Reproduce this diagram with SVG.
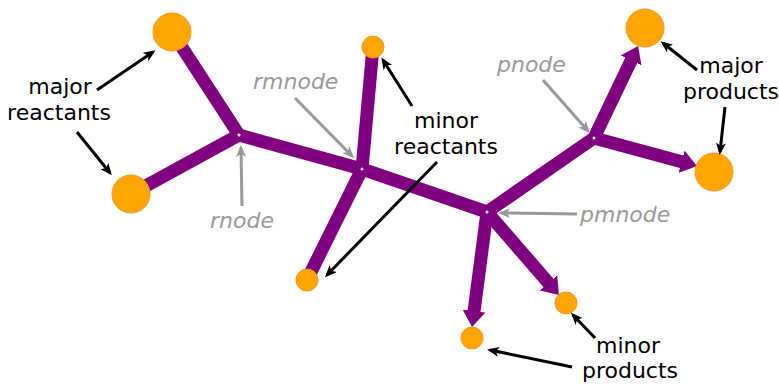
<svg xmlns="http://www.w3.org/2000/svg" width="779" height="385" viewBox="0 0 779 385">
  <defs>
    <style>
      .flux { stroke: #800080; stroke-width: 13; fill: none; stroke-linecap: butt; }
      .species { fill: #ffa500; stroke: #f7941d; stroke-width: 1; }
      .hub { fill: #ffffff; }
      .pointer { stroke: #000000; stroke-width: 3; fill: none; marker-end: url(#blackHead); }
      .hint { stroke: #999999; stroke-width: 3; fill: none; marker-end: url(#grayHead); }
      .label { font-family: "DejaVu Sans", "Noto Sans", sans-serif; font-size: 22px; fill: #000000; text-anchor: middle; }
      .tag { font-family: "DejaVu Sans", "Noto Sans", sans-serif; font-size: 22px; font-style: italic; fill: #999999; }
    </style>
    <marker id="fluxHead" markerUnits="userSpaceOnUse" viewBox="0 0 16 23" markerWidth="16" markerHeight="23" refX="2" refY="11.5" orient="auto">
      <path d="M0,0 L16,11.5 L0,23 z" fill="#800080"/>
    </marker>
    <marker id="blackHead" markerUnits="userSpaceOnUse" viewBox="0 0 12 10" markerWidth="12" markerHeight="10" refX="9" refY="5" orient="auto">
      <path d="M0,0 L12,5 L0,10 L3,5 z" fill="#000000"/>
    </marker>
    <marker id="grayHead" markerUnits="userSpaceOnUse" viewBox="0 0 12 10" markerWidth="12" markerHeight="10" refX="9" refY="5" orient="auto">
      <path d="M0,0 L12,5 L0,10 L3,5 z" fill="#999999"/>
    </marker>
  </defs>

  <rect width="779" height="385" fill="#ffffff"/>

  <!-- reaction fluxes -->
  <g id="connectors">
    <line class="flux" x1="172" y1="32" x2="239" y2="135"/>
    <line class="flux" x1="131" y1="194" x2="239" y2="135"/>
    <line class="flux" x1="239" y1="135" x2="362" y2="169"/>
    <line class="flux" x1="373" y1="47" x2="362" y2="169"/>
    <line class="flux" x1="307" y1="280" x2="362" y2="169"/>
    <line class="flux" x1="362" y1="169" x2="487" y2="212"/>
    <line class="flux" x1="487" y1="212" x2="594" y2="138"/>
    <line class="flux" x1="594" y1="138" x2="632" y2="58.6" marker-end="url(#fluxHead)"/>
    <line class="flux" x1="594" y1="138" x2="683.5" y2="162.3" marker-end="url(#fluxHead)"/>
    <line class="flux" x1="487" y1="212" x2="473.8" y2="313.1" marker-end="url(#fluxHead)"/>
    <line class="flux" x1="487" y1="212" x2="549.8" y2="284.4" marker-end="url(#fluxHead)"/>
  </g>

  <!-- branch points -->
  <g id="rnode"><circle class="hub" cx="239" cy="135" r="1.5"/></g>
  <g id="rmnode"><circle class="hub" cx="362" cy="169" r="1.5"/></g>
  <g id="pmnode"><circle class="hub" cx="487" cy="212" r="1.5"/></g>
  <g id="pnode"><circle class="hub" cx="594" cy="138" r="1.5"/></g>

  <!-- species -->
  <g id="major-reactant-1"><circle class="species" cx="172" cy="32" r="19"/></g>
  <g id="major-reactant-2"><circle class="species" cx="131" cy="194" r="19"/></g>
  <g id="minor-reactant-1"><circle class="species" cx="373" cy="47" r="11"/></g>
  <g id="minor-reactant-2"><circle class="species" cx="307" cy="280" r="11"/></g>
  <g id="major-product-1"><circle class="species" cx="645" cy="28" r="19"/></g>
  <g id="major-product-2"><circle class="species" cx="714" cy="172" r="19"/></g>
  <g id="minor-product-1"><circle class="species" cx="566" cy="303" r="11"/></g>
  <g id="minor-product-2"><circle class="species" cx="472" cy="338" r="11"/></g>

  <!-- annotation arrows -->
  <g id="annotations">
    <line class="pointer" x1="97" y1="90" x2="153" y2="52"/>
    <line class="pointer" x1="77" y1="132" x2="110" y2="173"/>
    <line class="pointer" x1="412" y1="106" x2="383" y2="60"/>
    <line class="pointer" x1="437" y1="162" x2="327" y2="275"/>
    <line class="pointer" x1="697" y1="70" x2="663" y2="43"/>
    <line class="pointer" x1="725" y1="107" x2="720" y2="152"/>
    <line class="pointer" x1="595" y1="338" x2="573" y2="315"/>
    <line class="pointer" x1="572" y1="367" x2="490" y2="350"/>

    <line class="hint" x1="295" y1="98" x2="352" y2="156"/>
    <line class="hint" x1="242" y1="206" x2="241" y2="148"/>
    <line class="hint" x1="543" y1="80" x2="588" y2="131"/>
    <line class="hint" x1="577" y1="214" x2="501" y2="213"/>
  </g>

  <!-- labels -->
  <g id="labels">
    <text class="label" x="60" y="94">major</text>
    <text class="label" x="59" y="120">reactants</text>
    <text class="label" x="446" y="128">minor</text>
    <text class="label" x="446" y="154">reactants</text>
    <text class="label" x="731" y="73">major</text>
    <text class="label" x="731" y="99">products</text>
    <text class="label" x="628" y="353">minor</text>
    <text class="label" x="630" y="378">products</text>

    <text class="tag" x="253" y="89">rmnode</text>
    <text class="tag" x="210" y="228">rnode</text>
    <text class="tag" x="497" y="72">pnode</text>
    <text class="tag" x="580" y="222">pmnode</text>
  </g>
</svg>
